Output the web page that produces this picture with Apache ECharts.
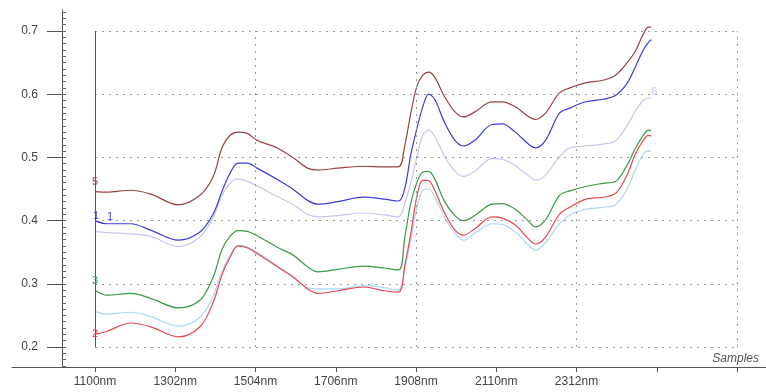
<!DOCTYPE html>
<html><head><meta charset="utf-8">
<script src="https://cdn.jsdelivr.net/npm/echarts@6/dist/echarts.min.js"></script>
<style>html,body{margin:0;padding:0;background:#fff}#c{width:766px;height:392px}</style>
</head><body><div id="c"></div>
<script>
// wavelengths (nm)
const wavelengths = [1100,1130,1190,1240,1310,1364,1397,1420,1440,1460,1483,1508,1559,1600,1635,1661,1711,1777,1828,1864,1880,1895,1910,1925,1940,1955,1980,2006,2028,2056,2099,2125,2158,2193,2209,2234,2269,2295,2335,2379,2410,2437,2460,2480,2493,2500];
// sample spectra
const sample5 = [0.446,0.445,0.448,0.442,0.425,0.440,0.469,0.516,0.535,0.540,0.538,0.527,0.515,0.499,0.483,0.480,0.483,0.486,0.485,0.485,0.520,0.570,0.612,0.630,0.635,0.627,0.596,0.572,0.564,0.572,0.588,0.588,0.580,0.564,0.560,0.570,0.602,0.610,0.618,0.622,0.630,0.648,0.668,0.695,0.706,0.706];
const sample1 = [0.400,0.395,0.395,0.385,0.369,0.382,0.410,0.447,0.475,0.491,0.491,0.483,0.465,0.449,0.432,0.426,0.430,0.437,0.434,0.431,0.452,0.505,0.545,0.580,0.600,0.592,0.555,0.527,0.518,0.527,0.552,0.553,0.540,0.520,0.515,0.527,0.570,0.578,0.588,0.592,0.598,0.615,0.643,0.670,0.682,0.686];
const sample6 = [0.383,0.381,0.379,0.375,0.359,0.374,0.405,0.440,0.459,0.466,0.462,0.455,0.438,0.425,0.410,0.406,0.408,0.412,0.409,0.406,0.428,0.460,0.500,0.535,0.543,0.533,0.502,0.478,0.470,0.478,0.498,0.497,0.487,0.470,0.464,0.472,0.501,0.515,0.518,0.521,0.526,0.548,0.573,0.590,0.594,0.594];
const sample3 = [0.290,0.282,0.285,0.277,0.262,0.274,0.310,0.355,0.375,0.384,0.383,0.376,0.358,0.345,0.327,0.319,0.323,0.328,0.325,0.322,0.375,0.428,0.460,0.477,0.478,0.466,0.430,0.408,0.400,0.408,0.426,0.427,0.418,0.398,0.390,0.401,0.440,0.447,0.454,0.459,0.462,0.485,0.514,0.535,0.543,0.542];
const sample4 = [0.256,0.252,0.255,0.248,0.233,0.247,0.280,0.320,0.345,0.360,0.358,0.350,0.328,0.310,0.294,0.292,0.292,0.297,0.294,0.290,0.325,0.370,0.420,0.448,0.450,0.438,0.405,0.380,0.369,0.380,0.395,0.394,0.382,0.360,0.353,0.365,0.395,0.409,0.418,0.421,0.425,0.447,0.480,0.505,0.510,0.510];
const sample2 = [0.220,0.225,0.238,0.232,0.216,0.232,0.270,0.315,0.342,0.360,0.357,0.348,0.327,0.310,0.292,0.285,0.289,0.295,0.289,0.287,0.330,0.380,0.437,0.464,0.463,0.448,0.412,0.385,0.377,0.387,0.406,0.404,0.393,0.370,0.363,0.374,0.410,0.421,0.434,0.437,0.443,0.469,0.505,0.527,0.535,0.534];
// ticks
const xTickValues = [1100,1302,1504,1706,1908,2110,2312,2514,2716];
const xLabelValues = [1100,1302,1504,1706,1908,2110,2312];
const xGridValues = [1504,1908,2312,2716];
const yLabelValues = [0.2,0.3,0.4,0.5,0.6,0.7];

const X_MIN = 891, X_MAX = 2789, Y_MIN = 0.1684, Y_MAX = 0.7332;
const MINOR_MIN = 0.17, MINOR_MAX = 0.73, MINOR_STEP = 0.01;
const GRID_X_END = 2716;

function pairs(ys) { return wavelengths.map((w, i) => [w, ys[i]]); }

const gridLines = [];
yLabelValues.forEach(v => gridLines.push([{coord:[1100, v]}, {coord:[GRID_X_END, v]}]));
xGridValues.forEach(v => gridLines.push([{coord:[v, 0.2]}, {coord:[v, 0.7]}]));

const FONT = 'Liberation Sans, Arial, sans-serif';
const txt = {fontFamily:FONT, fontSize:12, color:'#444'};

function lineSeries(name, ys, color, labels, z) {
  return {
    name, type:'line', data: pairs(ys), showSymbol:false, smooth:0.35, z: z,
    lineStyle:{color, width:1.2}, itemStyle:{color}, silent:true, animation:false,
    markPoint: {
      symbol:'circle', symbolSize:0, silent:true, animation:false,
      data: labels.map(l => {
        const idx = l.at === 'end' ? ys.length - 1 : 0;
        return {coord:[wavelengths[idx], ys[idx]], label:{show:true, formatter:l.text, position:'inside', offset:l.offset, color, fontSize:11, fontFamily:FONT}};
      })
    }
  };
}

// main grid: 357px tall for Y_MIN..Y_MAX; minor-tick grid spans MINOR_MIN..MINOR_MAX on the same scale
const H = 392, TOP = 10, BOTTOM = 25;
const pxPerUnit = (H - TOP - BOTTOM) / (Y_MAX - Y_MIN);
const minorTop = TOP + (Y_MAX - MINOR_MAX) * pxPerUnit;
const minorBottom = BOTTOM + (MINOR_MIN - Y_MIN) * pxPerUnit;

const chart = echarts.init(document.getElementById('c'), null, {renderer:'canvas'});
chart.setOption({
  animation:false,
  backgroundColor:'#fff',
  grid:[
    {left:12, right:0, top:TOP, bottom:BOTTOM, containLabel:false, outerBoundsMode:'none'},
    {left:12, right:0, top:minorTop, bottom:minorBottom, containLabel:false, outerBoundsMode:'none'}
  ],
  xAxis:[{
    gridIndex:0, type:'value', min:X_MIN, max:X_MAX,
    axisLine:{onZero:false, lineStyle:{color:'#555', width:1}},
    axisTick:{customValues:xTickValues, length:5, lineStyle:{color:'#555'}},
    axisLabel:Object.assign({customValues:xLabelValues, formatter:v => v + 'nm', margin:9}, txt),
    splitLine:{show:false}
  },{
    gridIndex:1, type:'value', min:X_MIN, max:X_MAX, show:false, splitLine:{show:false}
  }],
  yAxis:[{
    gridIndex:0, type:'value', min:Y_MIN, max:Y_MAX, position:'left', offset:-50,
    axisLine:{show:true, onZero:false, lineStyle:{color:'#555', width:1}},
    axisTick:{customValues:yLabelValues, length:15, lineStyle:{color:'#555'}},
    axisLabel:Object.assign({customValues:yLabelValues, formatter:v => v.toFixed(1), margin:24}, txt),
    splitLine:{show:false}
  },{
    gridIndex:1, type:'value', min:MINOR_MIN, max:MINOR_MAX, interval:MINOR_STEP, position:'left', offset:-50,
    axisLine:{show:false, onZero:false},
    axisTick:{show:true, inside:true, length:4, lineStyle:{color:'#666'}},
    axisLabel:{show:true, color:'rgba(0,0,0,0)', fontSize:6},
    splitLine:{show:false}
  }],
  graphic:[{type:'text', right:7, top:353, style:{text:'Samples', font:'italic 12px ' + FONT, fill:'#555'}}],
  series:[
    {type:'line', xAxisIndex:1, yAxisIndex:1, data:pairs(sample6), showSymbol:false, silent:true,
     lineStyle:{opacity:0}, itemStyle:{opacity:0}, z:0},
    {type:'line', data:[], silent:true, z:1,
     markLine:{symbol:'none', silent:true, animation:false, label:{show:false},
       lineStyle:{type:[2,5], color:'#999', width:1}, data:gridLines}},
    {type:'line', data:[], silent:true, z:1,
     markLine:{symbol:'none', silent:true, animation:false, label:{show:false},
       lineStyle:{type:'solid', color:'#555', width:1}, data:[[{coord:[1100,0.2]},{coord:[1100,0.7]}]]}},
    lineSeries('6', sample6, '#c6c6f2', [{text:'6', at:'end', offset:[3,-6]}], 2),
    lineSeries('4', sample4, '#acd6f4', [], 2),
    lineSeries('5', sample5, '#9a4242', [{text:'5', at:'start', offset:[0,-10]}], 3),
    lineSeries('1', sample1, '#3c3cdc', [{text:'1', at:'start', offset:[1,-5]}, {text:'1', at:'start', offset:[15,-4]}], 3),
    lineSeries('3', sample3, '#3a9a48', [{text:'3', at:'start', offset:[0,-9]}], 3),
    lineSeries('2', sample2, '#e8484c', [{text:'2', at:'start', offset:[0,0]}], 3)
  ]
});
</script></body></html>
